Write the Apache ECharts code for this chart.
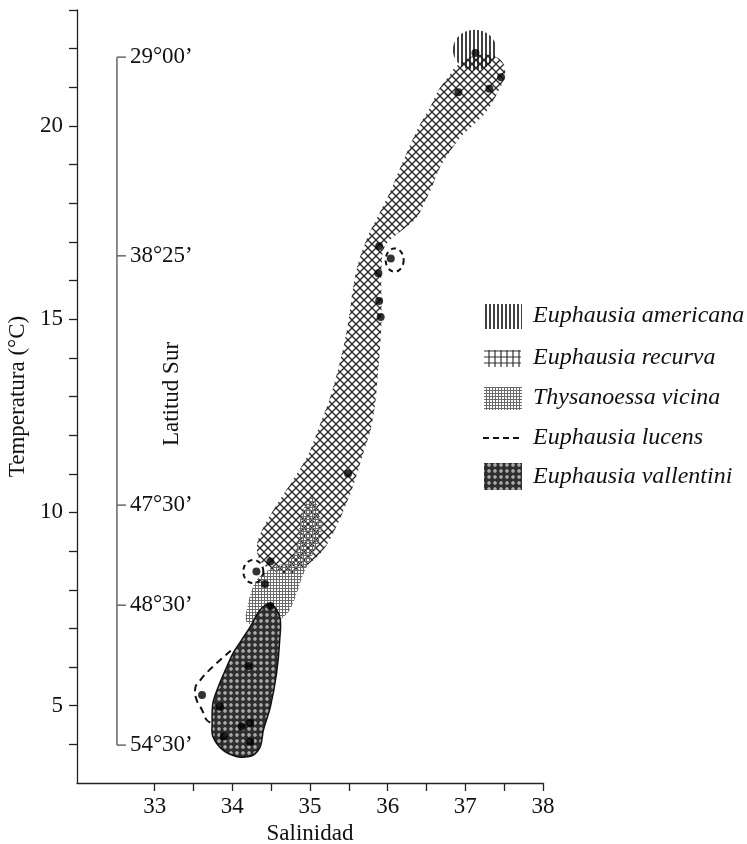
<!DOCTYPE html>
<html><head><meta charset="utf-8">
<script src="https://cdn.jsdelivr.net/npm/echarts@6/dist/echarts.min.js"></script>
<style>html,body{margin:0;padding:0;background:#fff}#c{width:747px;height:844px}</style>
</head><body><div id="c"></div>
<script>
// ---- data ----
const xTicks = [33,33.5,34,34.5,35,35.5,36,36.5,37,37.5,38];
const xLabels = [33,34,35,36,37,38];
const yTicks = [4,5,6,7,8,9,10,11,12,13,14,15,16,17,18,19,20,21,22,23];
const yLabels = [5,10,15,20];
const latLabels = ["29°00’","38°25’","47°30’","48°30’","54°30’"];
const latTemps = [21.78,16.64,10.19,7.6,3.98];
const latSalinity = 32.514;
const speciesNames = ["Euphausia americana","Euphausia recurva","Thysanoessa vicina","Euphausia lucens","Euphausia vallentini"];

// Euphausia recurva region outline [salinity, temperature]
const recurvaArea = [
[36.80,21.32],[36.67,20.98],[36.54,20.46],[36.41,20.02],[36.29,19.51],[36.16,18.91],[36.03,18.29],[35.90,17.77],[35.77,17.26],[35.71,16.97],[35.62,16.45],[35.55,15.76],[35.51,15.16],[35.45,14.46],[35.36,13.69],[35.26,12.99],[35.15,12.39],[35.04,11.80],[34.96,11.43],[34.78,10.84],[34.61,10.32],[34.45,9.80],[34.33,9.29],[34.32,8.95],[34.38,8.69],[34.51,8.51],[34.68,8.41],[34.83,8.46],
[35.00,8.69],[35.17,9.03],[35.30,9.47],[35.42,9.99],[35.55,10.66],[35.64,11.23],[35.72,11.75],[35.78,12.13],[35.84,12.83],[35.87,13.50],[35.90,14.20],[35.92,14.90],[35.92,15.57],[35.92,16.27],[35.96,16.87],[36.16,17.26],[36.37,17.62],[36.48,18.03],[36.58,18.47],[36.67,18.91],[36.80,19.33],[36.93,19.69],[37.10,20.02],[37.27,20.37],[37.40,20.80],[37.51,21.32],[37.48,21.65],[37.31,21.84],[37.06,21.78],[36.86,21.50]
];
// Thysanoessa vicina region
const vicinaArea = [
[35.03,10.40],[35.13,9.93],[35.14,9.42],[35.03,8.90],[34.91,8.38],[34.82,7.86],[34.72,7.42],[34.55,7.17],[34.33,7.09],[34.18,7.17],[34.20,7.61],[34.25,7.99],[34.33,8.30],[34.51,8.56],[34.74,8.77],[34.85,9.29],[34.87,9.80],[34.94,10.19]
];
// Euphausia vallentini region
const vallentiniArea = [
[34.49,7.63],[34.61,7.30],[34.61,6.70],[34.57,5.85],[34.49,4.97],[34.40,4.37],[34.36,3.94],[34.27,3.72],[34.19,3.68],[34.06,3.68],[33.88,3.85],[33.75,4.20],[33.74,4.55],[33.75,5.07],[33.82,5.49],[33.91,5.92],[34.01,6.36],[34.12,6.70],[34.23,7.04],[34.36,7.48]
];
// Euphausia americana: [centre S, centre T, radius S, radius T]
const americanaPatch = [[37.12,21.97,0.28,0.52]];
// Euphausia lucens dashed circles and outline
const lucensCircles = [[36.09,16.53,0.116,0.30],[34.27,8.47,0.129,0.30]];
const lucensOutline = [[33.98,6.42],[33.75,6.01],[33.59,5.67],[33.52,5.41],[33.54,5.15],[33.61,4.89],[33.67,4.63],[33.74,4.55]];
// Stations
const stations = [[37.13,21.89],[37.46,21.26],[36.91,20.87],[37.31,20.96],[35.89,16.89],[36.04,16.57],[35.88,16.19],[35.89,15.47],[35.91,15.06],[35.49,11.01],[34.49,8.73],[34.31,8.47],[34.42,8.15],[34.49,7.58],[34.21,6.03],[33.61,5.28],[33.84,4.97],[34.12,4.46],[34.23,4.55],[33.89,4.20],[34.23,4.07]];

// ---- patterns ----
function tile(w,h,draw){const c=document.createElement('canvas');c.width=w;c.height=h;const g=c.getContext('2d');draw(g,w,h);return {image:c,repeat:'repeat'};}
const patCross = tile(8,8,(g,w)=>{g.strokeStyle='#262626';g.lineWidth=1.25;for(const o of [-w,0,w]){g.beginPath();g.moveTo(o,0);g.lineTo(o+w,w);g.stroke();g.beginPath();g.moveTo(o,w);g.lineTo(o+w,0);g.stroke();}});
const patCrossLegend = tile(6,6,(g)=>{g.fillStyle='#fff';g.fillRect(0,0,6,6);g.strokeStyle='#333';g.lineWidth=1.2;g.beginPath();g.moveTo(3,0);g.lineTo(3,6);g.moveTo(0,3);g.lineTo(6,3);g.stroke();});
const patVert = tile(4,4,(g)=>{g.strokeStyle='#111';g.lineWidth=1.6;g.beginPath();g.moveTo(2,0);g.lineTo(2,4);g.stroke();});
const patFine = tile(3,3,(g)=>{g.fillStyle='#6a6a6a';g.fillRect(0,0,3,1);g.fillRect(0,0,1,3);});
const patDots = tile(6,6,(g)=>{g.fillStyle='#2e2e2e';g.fillRect(0,0,6,6);g.fillStyle='#cfcfcf';g.beginPath();g.arc(3,3,1.7,0,Math.PI*2);g.fill();g.fillStyle='#2e2e2e';g.beginPath();g.arc(3,3,0.6,0,Math.PI*2);g.fill();});

const FONT = '"Liberation Serif","Times New Roman",serif';

function polygonSeries(name, data, fill, stroke, lw, z){
  return {name, type:'custom', z, silent:true, data, encode:{x:0,y:1},
    renderItem(params, api){
      if (params.context.rendered) return;
      params.context.rendered = true;
      const pts = data.map(p=>api.coord(p));
      return {type:'polygon', shape:{points:pts, smooth:0.35}, style:{fill, stroke:stroke||null, lineWidth:lw||0}};
    }};
}
function ellipseSeries(name, data, fill, stroke, dash, z){
  return {name, type:'custom', z, silent:true, data, encode:{x:0,y:1},
    renderItem(params, api){
      const c = api.coord([api.value(0), api.value(1)]);
      const s = api.size([api.value(2), api.value(3)]);
      const pts=[]; const n=48;
      for(let k=0;k<n;k++){const a=k/n*2*Math.PI;pts.push([c[0]+s[0]*Math.cos(a), c[1]+s[1]*Math.sin(a)]);}
      return {type:'polygon', shape:{points:pts}, style:{fill:fill||'none', stroke:stroke||null, lineWidth:stroke?2:0, lineDash:dash||null}};
    }};
}

const chart = echarts.init(document.getElementById('c'));
const legendTop = [316,358,398,438,477];
chart.setOption({
  animation:false,
  backgroundColor:'#fff',
  grid:{left:77, right:204, top:10, bottom:61, containLabel:false, outerBoundsMode:'none'},
  xAxis:{type:'value', min:32, max:38, interval:0.5,
    name:'Salinidad', nameLocation:'middle', nameGap:38,
    nameTextStyle:{fontFamily:FONT, fontSize:23, color:'#111'},
    axisLine:{lineStyle:{color:'#222', width:1.3}},
    axisTick:{customValues:xTicks, length:8, lineStyle:{color:'#222', width:1.3}},
    axisLabel:{customValues:xLabels, margin:12, fontFamily:FONT, fontSize:23, color:'#111'},
    splitLine:{show:false}},
  yAxis:{type:'value', min:3, max:23, interval:1,
    name:'Temperatura (°C)', nameLocation:'middle', nameGap:43, nameRotate:90,
    nameTextStyle:{fontFamily:FONT, fontSize:23, color:'#111'},
    axisLine:{show:true, lineStyle:{color:'#222', width:1.3}},
    axisTick:{show:true, customValues:yTicks, length:8, lineStyle:{color:'#222', width:1.3}},
    axisLabel:{customValues:yLabels, margin:14, fontFamily:FONT, fontSize:23, color:'#111'},
    splitLine:{show:false}},
  series:[
    polygonSeries(speciesNames[1], recurvaArea, patCross, null, 0, 2),
    polygonSeries(speciesNames[2], vicinaArea, patFine, null, 0, 3),
    ellipseSeries(speciesNames[0], americanaPatch, patVert, null, null, 4),
    polygonSeries(speciesNames[4], vallentiniArea, patDots, '#111', 1.5, 5),
    ellipseSeries(speciesNames[3]+' ', lucensCircles, null, '#111', [5,4], 6),
    {name:speciesNames[3], type:'line', z:6, data:lucensOutline, smooth:true, showSymbol:false, symbol:'none',
      lineStyle:{color:'#111', width:2, type:[7,5]}},
    {name:'Latitud', type:'line', z:3, data:[[latSalinity, latTemps[0]],[latSalinity, latTemps[latTemps.length-1]]],
      showSymbol:false, symbol:'none', lineStyle:{color:'#666', width:1.5}},
    {name:'LatTicks', type:'custom', z:3, data:latTemps.map(t=>[latSalinity,t]), encode:{x:0,y:1},
      renderItem(params, api){
        const p = api.coord([api.value(0), api.value(1)]);
        return {type:'group', children:[
          {type:'line', shape:{x1:p[0],y1:p[1],x2:p[0]+9,y2:p[1]}, style:{stroke:'#666', lineWidth:1.5}},
          {type:'text', style:{text:latLabels[params.dataIndex], x:p[0]+13, y:p[1], align:'left', verticalAlign:'middle', font:'23px '+FONT, fill:'#111'}}
        ]};
      }},
    {name:'Estaciones', type:'scatter', z:8, data:stations, symbolSize:8, itemStyle:{color:'#000'}}
  ],
  graphic:{elements:[
    {type:'text', x:172, y:394, rotation:Math.PI/2, style:{text:'Latitud Sur', align:'center', verticalAlign:'middle', font:'23px '+FONT, fill:'#111'}},
    {type:'rect', shape:{x:483,y:304,width:39,height:25}, style:{fill:patVert}},
    {type:'rect', shape:{x:484,y:350,width:37,height:17}, style:{fill:patCrossLegend}},
    {type:'rect', shape:{x:484,y:387,width:38,height:23}, style:{fill:patFine}},
    {type:'line', shape:{x1:483,y1:438,x2:522,y2:438}, style:{stroke:'#111', lineWidth:2, lineDash:[6,4]}},
    {type:'rect', shape:{x:484,y:463,width:38,height:27}, style:{fill:patDots}},
  ].concat(speciesNames.map((n,i)=>({type:'text', x:533, y:legendTop[i], style:{text:n, align:'left', verticalAlign:'middle', font:'italic 24px '+FONT, fill:'#111'}})))}
});
</script></body></html>
